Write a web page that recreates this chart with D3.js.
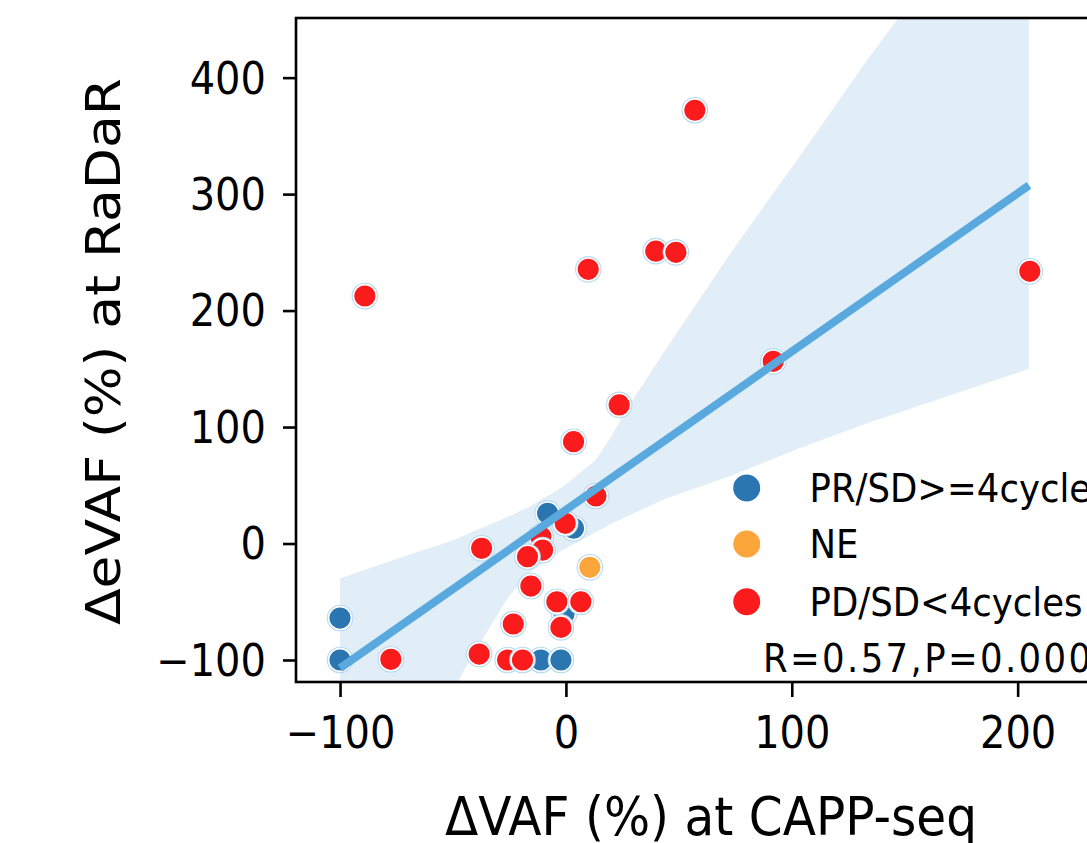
<!DOCTYPE html>
<html>
<head>
<meta charset="utf-8">
<script src="https://cdn.jsdelivr.net/npm/d3@7"></script>
<style>
  html, body { margin: 0; padding: 0; background: #fff; overflow: hidden; }
  text { font-family: "DejaVu Sans", sans-serif; fill: #000; }
</style>
</head>
<body>
<svg id="chart" width="1087" height="843"></svg>
<script>
// ---------------- data ----------------
const groupNames = ["PR/SD>=4cycles", "NE", "PD/SD<4cycles"];
const groupColors = ["#2b75b0", "#fba53a", "#fa1c1c"];

const prX = [-100, -100, -11.1, -2.2, -8.1, 3.4, -0.8];
const prY = [-64, -100, -100, -100, 25.9, 13.1, -60];

const neX = [10.6];
const neY = [-20.4];

const pdX = [-89, 57.1, 9.9, 39.8, 48.7, 205.4, 91.8, 23.6, 3.4, 13.3, -0.3, -11.1,
             -10.3, -17, -37.3, -15.5, -4, 6.6, -2.2, -23.3, -77.5, -38.4, -25.8, -19.2];
const pdY = [212.5, 372, 235.4, 251, 250, 233.7, 156.4, 119, 87.4, 40.8, 17.3, 5.8,
             -5.6, -11.3, -4.1, -36.5, -50, -50, -72, -69.1, -99.4, -94.9, -100, -100];

// regression fit and its confidence band
const fitSlope = 1.359;
const fitIntercept = 28.9;
const fitRange = [-100, 205];
const bandX =     [-100, -86, -68, -54, -48, -43.4, -35, -26, -17, -2, 13, 20.4, 27.5, 44.3, 73.5, 103, 133, 162, 205];
const bandUpper = [-30, -20.6, -8.6, 0, 4.5, 8.3, 15.2, 22.6, 30.8, 47.8, 71.3, 93, 117, 167, 251, 331, 414, 490, 587];
const bandLower = [-305, -255, -190, -141, -119.5, -103, -76, -47.5, -26.3, -6.2, 9.5, 17.2, 23.6, 38.7, 58.4, 81.6, 103, 122, 150];

const xTicks = [-100, 0, 100, 200];
const yTicks = [-100, 0, 100, 200, 300, 400];
const statText = "R=0.57,P=0.000";
const xLabel = "ΔVAF (%) at CAPP-seq";
const yLabel = "ΔeVAF (%) at RaDaR";

// ---------------- layout ----------------
const svg = d3.select("#chart");
const plot = { left: 296, top: 18, bottom: 682, right: 1108 };
const x = d3.scaleLinear().domain([-119.5, 240]).range([plot.left, plot.right]);
const y = d3.scaleLinear().domain([-118.9, 451.2]).range([plot.bottom, plot.top]);
const SY = 1.1; // vertical stretch of the reference text

svg.append("defs").append("clipPath").attr("id", "clip")
  .append("rect").attr("x", plot.left).attr("y", plot.top)
  .attr("width", plot.right - plot.left).attr("height", plot.bottom - plot.top);

const g = svg.append("g").attr("clip-path", "url(#clip)");

// confidence band
const bandData = bandX.map((v, i) => ({ x: v, lo: bandLower[i], hi: bandUpper[i] }));
g.append("path").datum(bandData)
  .attr("d", d3.area().x(d => x(d.x)).y0(d => y(d.lo)).y1(d => y(d.hi)))
  .attr("fill", "#e1eef8");

// points
const groups = [
  { xs: prX, ys: prY, c: groupColors[0] },
  { xs: neX, ys: neY, c: groupColors[1] },
  { xs: pdX, ys: pdY, c: groupColors[2] }
];
groups.forEach(grp => {
  const pts = grp.xs.map((v, i) => ({ x: v, y: grp.ys[i] }));
  const sel = g.append("g").selectAll("g").data(pts).join("g")
    .attr("transform", d => `translate(${x(d.x)},${y(d.y)})`);
  sel.append("circle").attr("r", 13.3).attr("fill", "#b8daef");
  sel.append("circle").attr("r", 11.4).attr("fill", grp.c)
    .attr("stroke", "#fff").attr("stroke-width", 1.6);
});

// regression line
g.append("line")
  .attr("x1", x(fitRange[0])).attr("y1", y(fitIntercept + fitSlope * fitRange[0]))
  .attr("x2", x(fitRange[1])).attr("y2", y(fitIntercept + fitSlope * fitRange[1]))
  .attr("stroke", "#5aa9de").attr("stroke-width", 8);

// frame
svg.append("rect").attr("x", plot.left).attr("y", plot.top)
  .attr("width", plot.right - plot.left).attr("height", plot.bottom - plot.top)
  .attr("fill", "none").attr("stroke", "#000").attr("stroke-width", 2.6);

// axes
const yAxis = svg.append("g").attr("transform", `translate(${plot.left},0)`)
  .call(d3.axisLeft(y).tickValues(yTicks).tickSize(13).tickPadding(17));
const xAxis = svg.append("g").attr("transform", `translate(0,${plot.bottom})`)
  .call(d3.axisBottom(x).tickValues(xTicks).tickSize(15));
[yAxis, xAxis].forEach(a => {
  a.select(".domain").remove();
  a.selectAll(".tick line").attr("stroke", "#000").attr("stroke-width", 2.6);
  a.selectAll(".tick text").style("font-family", "DejaVu Sans").style("font-size", "40px")
    .attr("fill", "#000");
});
yAxis.selectAll(".tick text").attr("dy", "0.35em").attr("transform", `scale(1,${SY})`);
xAxis.selectAll(".tick text").attr("y", 66 / SY).attr("dy", 0).attr("transform", `scale(1,${SY})`);

// axis labels
svg.append("text").attr("transform", `translate(711,835) scale(1,${SY})`)
  .attr("text-anchor", "middle").style("font-size", "48.6px").text(xLabel);
svg.append("text").attr("transform", `translate(120,351.6) scale(1,${SY}) rotate(-90)`)
  .attr("text-anchor", "middle").style("font-size", "48.6px").text(yLabel);

// legend
const legendRows = [488, 544, 601.7];
groupNames.forEach((name, i) => {
  svg.append("circle").attr("cx", 746.7).attr("cy", legendRows[i]).attr("r", 13.5)
    .attr("fill", groupColors[i]);
  svg.append("text").attr("transform", `translate(809.5,${legendRows[i] + 14}) scale(1,${SY})`)
    .style("font-size", "35.5px").text(name);
});
svg.append("text").attr("transform", `translate(763,672) scale(1,${SY})`)
  .style("font-size", "35.5px")
  .attr("textLength", 328).attr("lengthAdjust", "spacing")
  .text(statText);
</script>
</body>
</html>
